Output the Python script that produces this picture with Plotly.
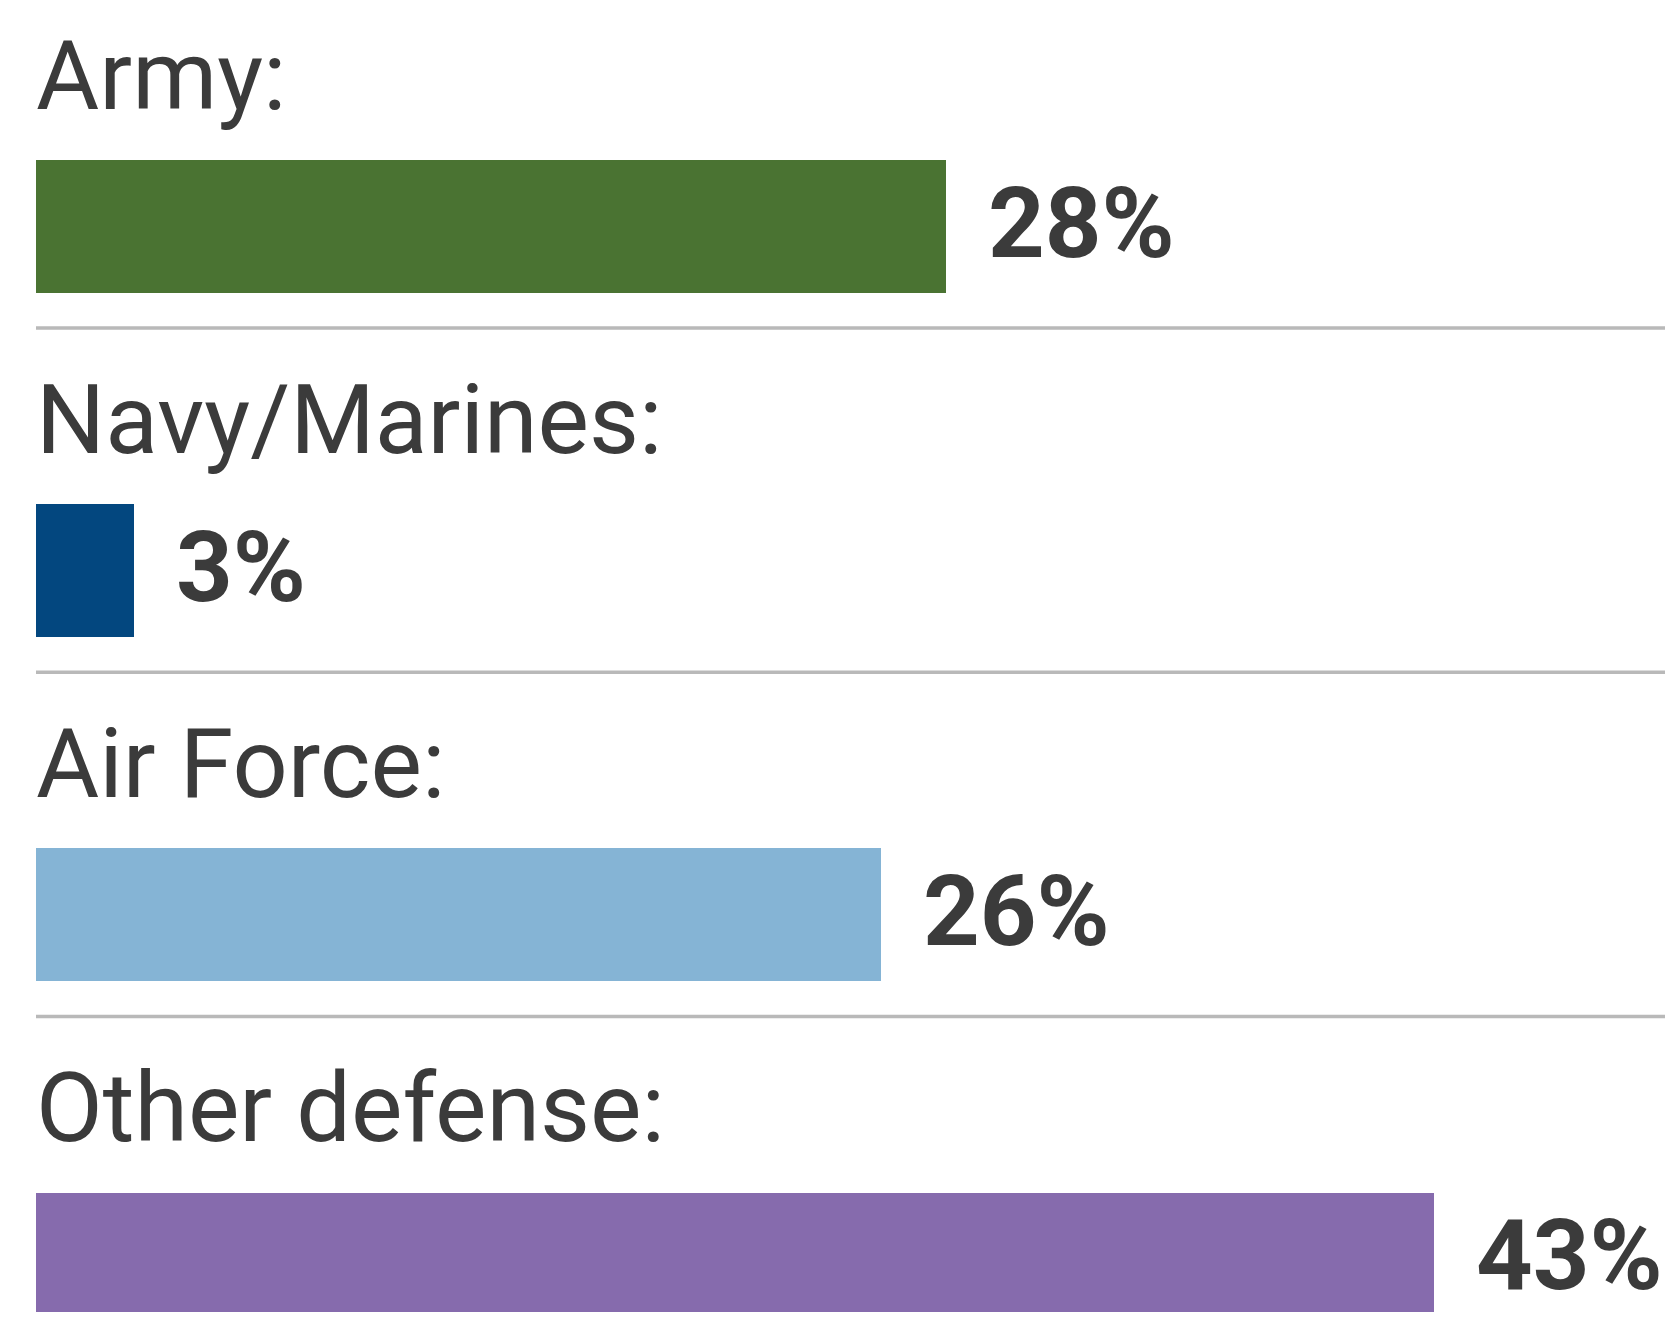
import plotly.graph_objects as go

categories = ["Army", "Navy/Marines", "Air Force", "Other defense"]
label_texts = ["Army:", "Navy/Marines:", "Air Force:", "Other defense:"]
values = [28, 3, 26, 43]
value_labels = ["28%", "3%", "26%", "43%"]
colors = ["#4a7332", "#03477f", "#85b4d5", "#866bad"]

# page has an 8px body margin, so the figure is sized to fit inside it
W, H = 1657, 1304
TEXT = "#3b3b3b"
LEFT = 28
PX_PER_PCT = 32.5
ROW = 344.2
FIRST_CENTER = 218.5

fig = go.Figure()
fig.add_trace(go.Bar(
    y=categories, x=values, orientation="h",
    marker=dict(color=colors, line=dict(width=0)),
    width=133 / ROW, hoverinfo="skip", showlegend=False,
))

annotations = []
for cat, lab, v, vl in zip(categories, label_texts, values, value_labels):
    annotations.append(dict(
        x=0, y=cat, xref="x", yref="y", text=lab, showarrow=False,
        xanchor="left", yanchor="bottom", yshift=92, xshift=-2,
        font=dict(family="Roboto", size=97, color=TEXT),
    ))
    annotations.append(dict(
        x=v, y=cat, xref="x", yref="y", text="<b>" + vl + "</b>", showarrow=False,
        xanchor="left", yanchor="middle", xshift=40, yshift=4,
        font=dict(family="Roboto", size=99, color=TEXT),
    ))

shapes = []
for i in range(3):
    shapes.append(dict(
        type="line", xref="paper", yref="y", x0=0, x1=1.05,
        y0=i + 0.295, y1=i + 0.295,
        line=dict(color="#b9b9b9", width=3.5),
    ))

fig.update_layout(
    width=W, height=H,
    margin=dict(l=LEFT, r=0, t=0, b=0),
    paper_bgcolor="white", plot_bgcolor="white",
    xaxis=dict(range=[0, (W - LEFT) / PX_PER_PCT], visible=False, fixedrange=True),
    yaxis=dict(range=[(H - FIRST_CENTER) / ROW, -FIRST_CENTER / ROW], visible=False,
               type="category", categoryorder="array", categoryarray=categories,
               fixedrange=True),
    annotations=annotations, shapes=shapes,
    bargap=0,
)

fig.write_html("out.html", config={"displayModeBar": False})
